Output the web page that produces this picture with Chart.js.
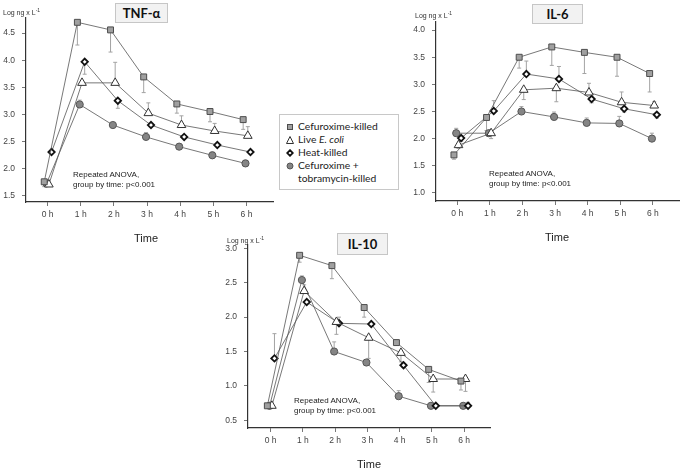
<!DOCTYPE html>
<html>
<head>
<meta charset="utf-8">
<script src="https://cdn.jsdelivr.net/npm/chart.js@4.4.1/dist/chart.umd.min.js"></script>
<style>
  body { margin: 0; background: #fff; }
  #page { position: relative; width: 685px; height: 468px; overflow: hidden; font-family: "Liberation Sans", Arial, sans-serif; color: #222; }
  #page canvas { position: absolute; left: 0; top: 0; }
  .title { position: absolute; box-sizing: border-box; background: #f2f2f2; border: 1px solid #c6c6c6; font: bold 13px Lato, sans-serif; color: #111; display: flex; align-items: center; justify-content: center; }
  .unit { position: absolute; font-size: 7px; color: #333; white-space: nowrap; }
  .unit sup { font-size: 5px; vertical-align: 3px; }
  .anova { position: absolute; font-size: 8px; line-height: 9.6px; color: #222; white-space: nowrap; }
  .time { position: absolute; font-size: 11px; color: #222; transform: translate(-50%, -50%); }
  #legend { position: absolute; left: 279px; top: 114px; width: 120px; height: 76px; box-sizing: border-box; border: 1px solid #c8c8c8; background: #fff; font: 10.3px Lato, sans-serif; color: #222; padding: 5px 0 0 6px; }
  #legend div { height: 13px; line-height: 13px; white-space: nowrap; }
  #legend svg { display: inline-block; vertical-align: -1px; margin-right: 4px; }
  #legend .cont { padding-left: 12px; }
</style>
</head>
<body>
<div id="page">
  <canvas id="tnf" width="685" height="468"></canvas>
  <canvas id="il6" width="685" height="468"></canvas>
  <canvas id="il10" width="685" height="468"></canvas>

  <div class="title" style="left:115px;top:3px;width:53px;height:20px;">TNF-α</div>
  <div class="title" style="left:532px;top:4px;width:51px;height:20px;">IL-6</div>
  <div class="title" style="left:337px;top:233px;width:51px;height:22px;">IL-10</div>

  <div class="unit" style="left:3px;top:7px;">Log ng x L<sup>-1</sup></div>
  <div class="unit" style="left:415px;top:10px;">Log ng x L<sup>-1</sup></div>
  <div class="unit" style="left:227px;top:235px;">Log ng x L<sup>-1</sup></div>

  <div class="anova" style="left:73px;top:170px;">Repeated ANOVA,<br>group by time: p&lt;0.001</div>
  <div class="anova" style="left:489px;top:169px;">Repeated ANOVA,<br>group by time: p&lt;0.001</div>
  <div class="anova" style="left:294px;top:396px;">Repeated ANOVA,<br>group by time: p&lt;0.001</div>

  <div class="time" style="left:146px;top:238px;">Time</div>
  <div class="time" style="left:557px;top:237px;">Time</div>
  <div class="time" style="left:369px;top:464px;">Time</div>

  <div id="legend">
    <div><svg width="8" height="8"><rect x="1.5" y="1.5" width="5" height="5" fill="#a0a0a0" stroke="#4d4d4d"/></svg>Cefuroxime-killed</div>
    <div><svg width="8" height="8"><polygon points="4,0.5 7.5,7.5 0.5,7.5" fill="#fff" stroke="#333"/></svg>Live <i>E. coli</i></div>
    <div><svg width="8" height="8"><polygon points="4,1.2 6.8,4 4,6.8 1.2,4" fill="#fff" stroke="#111" stroke-width="1.8"/></svg>Heat-killed</div>
    <div><svg width="8" height="8"><circle cx="4" cy="4" r="3" fill="#858585" stroke="#555"/></svg>Cefuroxime +</div>
    <div class="cont">tobramycin-killed</div>
  </div>
</div>

<script>
const hours = [0, 1, 2, 3, 4, 5, 6];
const hourLabels = ["0 h", "1 h", "2 h", "3 h", "4 h", "5 h", "6 h"];
const seriesNames = ["Cefuroxime-killed", "Live E. coli", "Heat-killed", "Cefuroxime + tobramycin-killed"];

// TNF-alpha, mean and whisker end (null = no whisker)
const tnfCef = [1.75, 4.70, 4.56, 3.69, 3.19, 3.05, 2.90];
const tnfCefErr = [1.66, 4.28, 4.15, 3.40, 3.02, 2.86, 2.72];
const tnfLive = [1.70, 3.58, 3.58, 3.02, 2.80, 2.69, 2.60];
const tnfLiveErr = [null, null, 3.96, 3.21, 2.97, 2.83, 2.77];
const tnfHeat = [2.30, 3.97, 3.25, 2.80, 2.58, 2.43, 2.30];
const tnfHeatErr = [null, 3.74, 3.11, null, null, null, null];
const tnfCefTob = [1.72, 3.18, 2.80, 2.58, 2.40, 2.24, 2.09];
const tnfCefTobErr = [1.66, 3.26, null, 2.66, 2.45, 2.30, 2.15];
const tnfTicks = [1.5, 2.0, 2.5, 3.0, 3.5, 4.0, 4.5];

// IL-6
const il6Cef = [1.70, 2.39, 3.50, 3.69, 3.59, 3.50, 3.20];
const il6CefErr = [1.62, 2.15, 3.30, 3.35, 3.20, 3.15, 2.86];
const il6Live = [1.88, 2.10, 2.90, 2.93, 2.85, 2.67, 2.61];
const il6LiveErr = [1.82, 2.00, 2.72, 2.68, 3.02, 2.86, 2.68];
const il6Heat = [2.01, 2.51, 3.19, 3.10, 2.73, 2.55, 2.44];
const il6HeatErr = [1.95, 2.70, 3.43, 3.33, 2.66, 2.49, 2.38];
const il6CefTob = [2.10, 2.10, 2.50, 2.40, 2.29, 2.28, 2.00];
const il6CefTobErr = [2.19, null, 2.59, 2.49, 2.38, 2.41, 2.10];
const il6Ticks = [1.0, 1.5, 2.0, 2.5, 3.0, 3.5, 4.0];

// IL-10
const il10Cef = [0.71, 2.90, 2.75, 2.14, 1.63, 1.24, 1.07];
const il10CefErr = [null, 2.80, 2.56, 2.00, null, 1.05, 0.94];
const il10Live = [0.71, 2.38, 1.93, 1.70, 1.48, 1.10, 1.10];
const il10LiveErr = [null, 2.47, 1.75, 1.40, 1.35, 0.91, 0.92];
const il10Heat = [1.40, 2.22, 1.91, 1.90, 1.30, 0.71, 0.71];
const il10HeatErr = [1.76, null, 2.00, null, 1.27, null, 0.76];
const il10CefTob = [0.71, 2.54, 1.50, 1.34, 0.85, 0.71, 0.71];
const il10CefTobErr = [null, 2.60, 1.64, null, 0.93, null, null];
const il10Ticks = [0.5, 1.0, 1.5, 2.0, 2.5, 3.0];

// marker look per group, same order as seriesNames
const looks = [
  { shift: -0.1, pointStyle: "rect", radius: 4.2, fill: "#a0a0a0", edge: "#4d4d4d", edgeWidth: 1 },
  { shift: 0.04, pointStyle: "triangle", radius: 5, fill: "#ffffff", edge: "#333333", edgeWidth: 1 },
  { shift: 0.12, pointStyle: "rectRot", radius: 3.2, fill: "#ffffff", edge: "#111111", edgeWidth: 1.8 },
  { shift: -0.03, pointStyle: "circle", radius: 3.6, fill: "#858585", edge: "#555555", edgeWidth: 1 },
];

const errorBars = {
  id: "errorBars",
  beforeDatasetsDraw(chart) {
    const ctx = chart.ctx;
    const y = chart.scales.y;
    chart.data.datasets.forEach((ds, i) => {
      const meta = chart.getDatasetMeta(i);
      ds.errEnd.forEach((e, j) => {
        if (e === null) return;
        const p = meta.data[j];
        const ye = y.getPixelForValue(e);
        ctx.save();
        ctx.strokeStyle = "#a3a3a3";
        ctx.lineWidth = 1;
        ctx.beginPath();
        ctx.moveTo(p.x, p.y);
        ctx.lineTo(p.x, ye);
        ctx.moveTo(p.x - 2, ye);
        ctx.lineTo(p.x + 2, ye);
        ctx.stroke();
        ctx.restore();
      });
    });
  },
};

function panel(id, area, yMin, yMax, yTicks, xMin, xMax, values, errs) {
  const datasets = values.map((vals, k) => ({
    label: seriesNames[k],
    data: hours.map((h, i) => ({ x: h + looks[k].shift, y: vals[i] })),
    errEnd: errs[k],
    borderColor: "#555555",
    borderWidth: 0.8,
    pointStyle: looks[k].pointStyle,
    pointRadius: looks[k].radius,
    pointBackgroundColor: looks[k].fill,
    pointBorderColor: looks[k].edge,
    pointBorderWidth: looks[k].edgeWidth,
    fill: false,
    tension: 0,
  }));

  const tickFont = { family: "'Liberation Sans', Arial, sans-serif", size: 8.5 };

  return new Chart(document.getElementById(id), {
    type: "line",
    data: { datasets: datasets },
    options: {
      responsive: false,
      animation: false,
      events: [],
      layout: { padding: { left: 0, top: area.top, right: 685 - area.right, bottom: 468 - area.bottom - 30 } },
      plugins: { legend: { display: false }, tooltip: { enabled: false } },
      scales: {
        x: {
          type: "linear",
          min: xMin,
          max: xMax,
          afterBuildTicks: (s) => { s.ticks = hours.map((v) => ({ value: v })); },
          afterFit: (s) => { s.height = 30; },
          ticks: { callback: (v, i) => hourLabels[i], font: tickFont, color: "#444", padding: 4, maxRotation: 0 },
          grid: { drawOnChartArea: false, tickLength: 4, color: "#777" },
          border: { color: "#333", width: 1.2 },
        },
        y: {
          min: yMin,
          max: yMax,
          afterBuildTicks: (s) => { s.ticks = yTicks.map((v) => ({ value: v })); },
          afterFit: (s) => { s.width = area.left; },
          ticks: { callback: (v) => v.toFixed(1), font: tickFont, color: "#444", padding: 7 },
          grid: { drawOnChartArea: false, tickLength: 4, color: "#777" },
          border: { color: "#333", width: 1.2 },
        },
      },
    },
    plugins: [errorBars],
  });
}

panel("tnf", { left: 26, top: 18, right: 273, bottom: 202 }, 1.376, 4.78, tnfTicks, -0.65, 6.8,
  [tnfCef, tnfLive, tnfHeat, tnfCefTob], [tnfCefErr, tnfLiveErr, tnfHeatErr, tnfCefTobErr]);

panel("il6", { left: 436, top: 22, right: 683, bottom: 201 }, 0.85, 4.15, il6Ticks, -0.65, 6.8,
  [il6Cef, il6Live, il6Heat, il6CefTob], [il6CefErr, il6LiveErr, il6HeatErr, il6CefTobErr]);

panel("il10", { left: 248, top: 245, right: 490, bottom: 428 }, 0.387, 3.05, il10Ticks, -0.7, 6.8,
  [il10Cef, il10Live, il10Heat, il10CefTob], [il10CefErr, il10LiveErr, il10HeatErr, il10CefTobErr]);
</script>
</body>
</html>
